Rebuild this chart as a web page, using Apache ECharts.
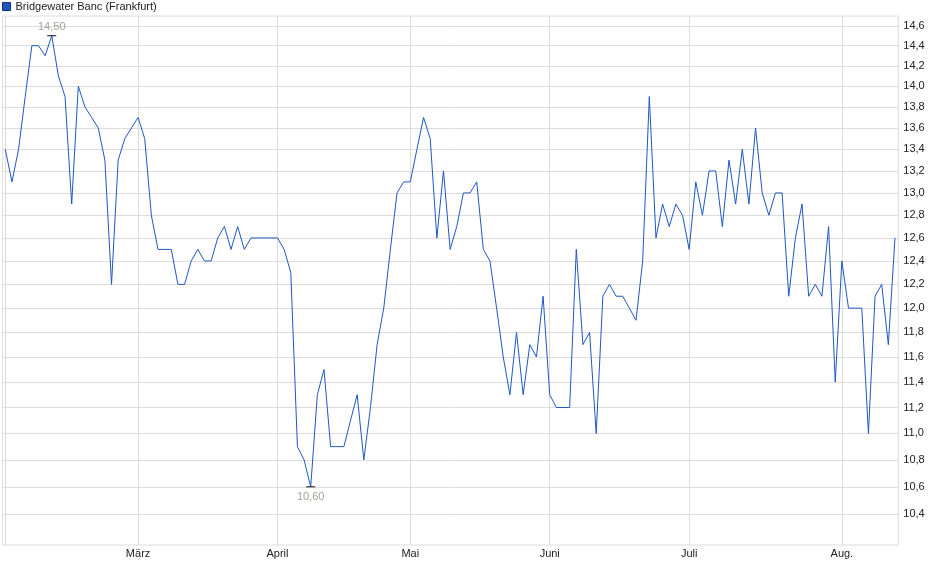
<!DOCTYPE html>
<html>
<head>
<meta charset="utf-8">
<script src="https://cdn.jsdelivr.net/npm/echarts@6/dist/echarts.min.js"></script>
<style>
	html, body { margin: 0; padding: 0; background: #fff; }
	#chart { width: 940px; height: 579px; }
</style>
</head>
<body>
<div id="chart"></div>
<script>
const SERIES_NAME = 'Bridgewater Banc (Frankfurt)';

// closing prices, one per trading day (Feb - Aug)
const prices = [
	13.4, 13.1, 13.4, 13.9, 14.4, 14.4, 14.3, 14.5, 14.1, 13.9,
	12.9, 14.0, 13.8, 13.7, 13.6, 13.3, 12.2, 13.3, 13.5, 13.6,
	13.7, 13.5, 12.8, 12.5, 12.5, 12.5, 12.2, 12.2, 12.4, 12.5,
	12.4, 12.4, 12.6, 12.7, 12.5, 12.7, 12.5, 12.6, 12.6, 12.6,
	12.6, 12.6, 12.5, 12.3, 10.9, 10.8, 10.6, 11.3, 11.5, 10.9,
	10.9, 10.9, 11.1, 11.3, 10.8, 11.2, 11.7, 12.0, 12.5, 13.0,
	13.1, 13.1, 13.4, 13.7, 13.5, 12.6, 13.2, 12.5, 12.7, 13.0,
	13.0, 13.1, 12.5, 12.4, 12.0, 11.6, 11.3, 11.8, 11.3, 11.7,
	11.6, 12.1, 11.3, 11.2, 11.2, 11.2, 12.5, 11.7, 11.8, 11.0,
	12.1, 12.2, 12.1, 12.1, 12.0, 11.9, 12.4, 13.9, 12.6, 12.9,
	12.7, 12.9, 12.8, 12.5, 13.1, 12.8, 13.2, 13.2, 12.7, 13.3,
	12.9, 13.4, 12.9, 13.6, 13.0, 12.8, 13.0, 13.0, 12.1, 12.6,
	12.9, 12.1, 12.2, 12.1, 12.7, 11.4, 12.4, 12.0, 12.0, 12.0,
	11.0, 12.1, 12.2, 11.7, 12.6
];

// index of the first trading day of each month
const monthStarts = [0, 20, 41, 61, 82, 103, 126];
const monthNames = ['Feb.', 'März', 'April', 'Mai', 'Juni', 'Juli', 'Aug.'];

const priceTicks = [10.4, 10.6, 10.8, 11.0, 11.2, 11.4, 11.6, 11.8, 12.0, 12.2,
	12.4, 12.6, 12.8, 13.0, 13.2, 13.4, 13.6, 13.8, 14.0, 14.2, 14.4, 14.6];

const FONT = '"Liberation Sans", Arial, sans-serif';
const GRID_COLOR = '#dcdcdc';

function fmtComma(v, digits) {
	return v.toFixed(digits).replace('.', ',');
}

const chart = echarts.init(document.getElementById('chart'), null, { renderer: 'canvas' });

const seriesData = prices.map((p, i) => [i, p]);

const option = {
	animation: false,
	textStyle: { fontFamily: FONT },
	legend: {
		data: [SERIES_NAME],
		left: 2,
		top: 1,
		icon: 'rect',
		itemWidth: 8,
		itemHeight: 8,
		itemGap: 4,
		padding: 0,
		textStyle: { fontSize: 11, color: '#222', fontFamily: FONT },
		itemStyle: { borderColor: '#17306e', borderWidth: 1 }
	},
	grid: {
		show: true,
		left: 2.7,
		right: 41.7,
		top: 16,
		bottom: 34,
		borderColor: GRID_COLOR,
		borderWidth: 1,
		backgroundColor: '#fff',
		containLabel: false
	},
	xAxis: {
		type: 'value',
		min: -0.39,
		max: 134.5,
		axisLine: { show: false },
		axisTick: { show: false, customValues: monthStarts },
		splitLine: { show: true, lineStyle: { color: GRID_COLOR, width: 1 } },
		axisLabel: {
			customValues: monthStarts.slice(1),
			formatter: (v) => monthNames[monthStarts.indexOf(Math.round(v))] || '',
			fontSize: 11,
			color: '#222',
			margin: 3,
			fontFamily: FONT
		}
	},
	yAxis: [{
		type: 'log',
		logBase: 10,
		position: 'right',
		min: 10.18,
		max: 14.70,
		axisLine: { show: false },
		axisTick: { show: false, customValues: priceTicks },
		splitLine: { show: true, lineStyle: { color: GRID_COLOR, width: 1 } },
		axisLabel: {
			customValues: priceTicks,
			formatter: (v) => fmtComma(v, 1),
			fontSize: 11,
			color: '#222',
			margin: 5,
			fontFamily: FONT
		}
	}],
	series: [{
		name: SERIES_NAME,
		type: 'line',
		data: seriesData,
		showSymbol: false,
		symbol: 'none',
		color: '#1f57c3',
		lineStyle: { color: '#1f57c3', width: 1 },
		markPoint: {
			symbol: 'rect',
			symbolSize: [9, 1],
			itemStyle: { color: '#111' },
			label: {
				show: true,
				fontSize: 11,
				color: '#a4a29c',
				fontFamily: FONT,
				formatter: (p) => fmtComma(p.value, 2)
			},
			data: [
				{ type: 'max', name: 'max', label: { position: 'top', distance: 3 } },
				{ type: 'min', name: 'min', label: { position: 'bottom', distance: 4 } }
			]
		}
	}]
};

chart.setOption(option);
</script>
</body>
</html>
